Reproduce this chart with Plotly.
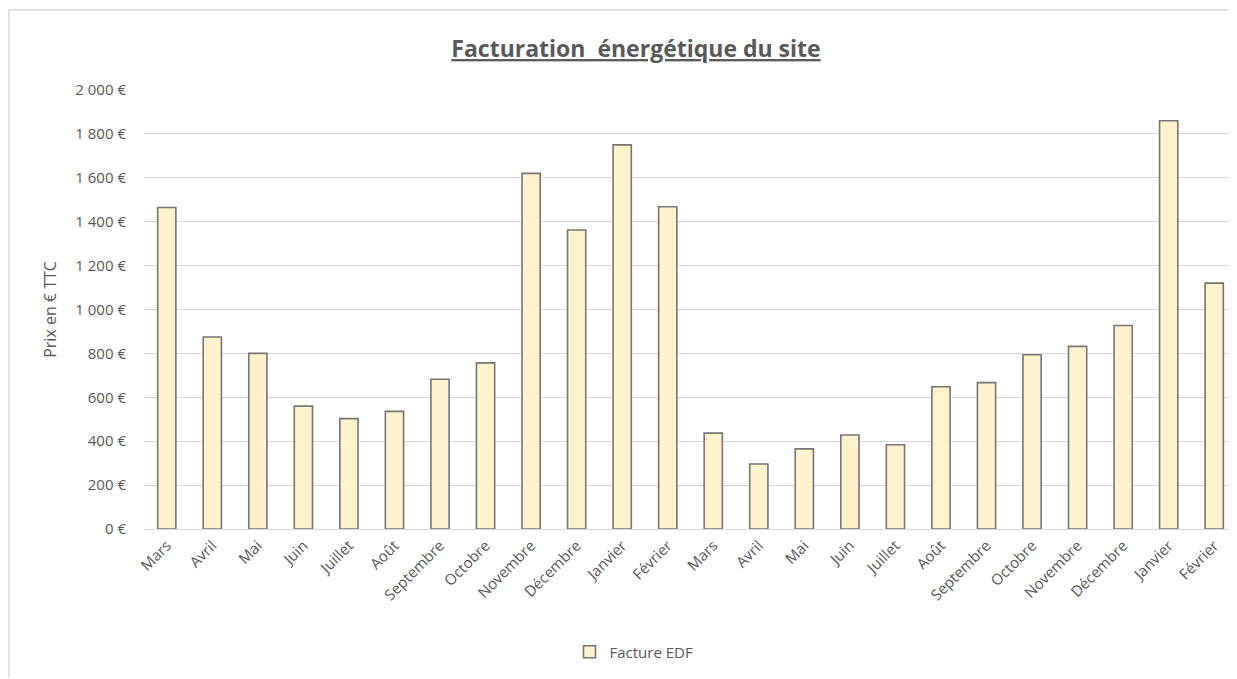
import plotly.graph_objects as go

# Données
mois = ["Mars", "Avril", "Mai", "Juin", "Juillet", "Août", "Septembre", "Octobre",
        "Novembre", "Décembre", "Janvier", "Février",
        "Mars", "Avril", "Mai", "Juin", "Juillet", "Août", "Septembre", "Octobre",
        "Novembre", "Décembre", "Janvier", "Février"]
facture_edf = [1465, 875, 800, 560, 503, 536, 682, 757, 1620, 1362, 1750, 1468,
               437, 296, 365, 428, 384, 648, 667, 794, 832, 927, 1860, 1120]
graduations = [0, 200, 400, 600, 800, 1000, 1200, 1400, 1600, 1800, 2000]

gris = "#595959"
police = "Open Sans"

# la page ajoute une marge de 8 px autour de la figure
W, H = 1229, 670
gauche, haut, bas = 136, 82, 521
larg_trace = W - gauche
haut_trace = bas - haut

positions = list(range(len(mois)))
etiquettes_y = [f"{v:,}".replace(",", " ") + " €" for v in graduations]

fig = go.Figure()
fig.add_trace(go.Bar(
    x=positions,
    y=facture_edf,
    name="Facture EDF",
    width=0.4,
    marker=dict(color="#FFF2CC", line=dict(color="#767676", width=1.6)),
))

fig.update_layout(
    width=W,
    height=H,
    paper_bgcolor="white",
    plot_bgcolor="white",
    margin=dict(l=gauche, r=0, t=haut, b=H - bas),
    font=dict(family=police, size=15, color=gris),
    title=dict(
        text="<b><u>Facturation  énergétique du site</u></b>",
        x=628 / W, xref="container", xanchor="center",
        y=1 - 41 / H, yanchor="middle",
        font=dict(family=police, size=23, color=gris),
    ),
    xaxis=dict(
        range=[-0.5, len(mois) - 0.5],
        tickmode="array",
        tickvals=positions,
        ticktext=mois,
        tickangle=-45,
        showgrid=False,
        showline=False,
        zeroline=False,
        ticks="",
        ticklabelstandoff=4,
        tickfont=dict(family=police, size=15, color=gris),
    ),
    yaxis=dict(
        range=[0, 2000],
        tickmode="array",
        tickvals=graduations,
        ticktext=etiquettes_y,
        showgrid=True,
        gridcolor="#D9D9D9",
        gridwidth=1,
        zeroline=True,
        zerolinecolor="#D9D9D9",
        zerolinewidth=1,
        showline=False,
        ticks="",
        ticklabelstandoff=17,
        tickfont=dict(family=police, size=15, color=gris),
        title=dict(text="Prix en € TTC", standoff=14,
                   font=dict(family=police, size=16, color=gris)),
    ),
    showlegend=True,
    legend=dict(
        orientation="h",
        x=(626 - gauche) / larg_trace, xanchor="center",
        y=-(644 - bas) / haut_trace, yanchor="middle",
        font=dict(family=police, size=15, color=gris),
    ),
    shapes=[dict(
        type="rect", xref="paper", yref="paper",
        x0=(1 - gauche) / larg_trace, x1=1.05,
        y0=-0.4, y1=(bas - 2) / haut_trace,
        line=dict(color="#D9D9D9", width=1.5),
        fillcolor="rgba(0,0,0,0)",
        layer="below",
    )],
)

fig.write_html("out.html")
